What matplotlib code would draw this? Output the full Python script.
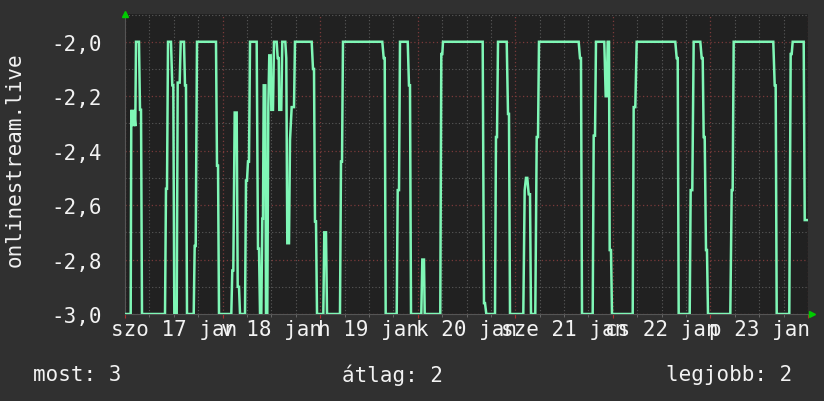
import matplotlib
matplotlib.use("Agg")
import matplotlib.pyplot as plt
import matplotlib.transforms as mtransforms
import numpy as np

# ---- data (hours since Sat 17 Jan 00:00, value) ----
hours = [
    0.17, 1.40, 1.55, 1.97, 2.21, 2.53, 2.71, 3.44, 3.69, 3.94, 4.18,
    9.84, 10.08, 10.33, 10.58, 11.31, 11.63, 11.88, 12.13, 12.72, 12.96,
    13.45, 13.70, 14.51, 14.76, 15.00, 15.25, 16.90, 17.14, 17.39, 17.71,
    22.38, 22.63, 22.88, 23.12, 26.15, 26.39, 26.64, 26.98, 27.47, 27.72,
    28.04, 28.29, 29.52, 29.76, 30.01, 30.25, 30.50, 30.75, 32.39, 32.71,
    32.96, 33.21, 33.53, 33.77, 33.94, 34.12, 34.51, 34.68, 35.00, 35.25,
    35.49, 35.84, 35.99, 36.40, 36.65, 37.31, 37.56, 37.81, 37.95, 38.44,
    38.69, 39.43, 39.67, 39.92, 40.34, 40.59, 41.00, 41.57, 41.81, 45.92,
    46.24, 46.49, 46.73, 46.98, 47.23, 48.78, 49.02, 49.44, 49.69, 52.88,
    53.13, 53.38, 53.62,
    63.29, 63.63, 63.88, 64.12, 66.83, 67.08, 67.40, 67.64, 69.54, 69.85,
    70.10, 70.35, 72.88, 73.13, 73.54, 73.72, 77.55, 77.80, 78.05, 78.22,
    87.98, 88.30, 88.55, 88.87, 91.01, 91.25, 91.50, 91.75, 93.89, 94.21,
    94.45, 94.70, 97.97, 98.31, 98.63, 98.95, 99.30, 99.62, 99.86, 100.92,
    101.27, 101.59, 101.83,
    111.59, 111.92, 112.16, 112.41, 115.04, 115.29, 115.61, 115.85, 117.89,
    118.24, 118.48, 118.73, 119.05, 119.22, 119.54, 119.79, 124.88, 125.12,
    125.52, 125.86, 135.36, 135.70, 135.95, 136.19, 138.90, 139.14, 139.54,
    139.88, 141.51, 141.85, 142.10, 142.34, 142.59, 142.91, 143.15, 143.40,
    148.89, 149.23, 149.47, 149.72, 159.46, 159.81, 160.05, 160.30, 163.40,
    163.74, 163.99, 164.23, 166.94, 167.19, 167.83,
]
values = [
    -3.0, -3.0, -2.25, -2.31, -2.25, -2.31, -2.0, -2.0, -2.25, -2.25, -3.0,
    -3.0, -2.54, -2.54, -2.0, -2.0, -2.16, -2.16, -3.0, -3.0, -2.15,
    -2.15, -2.0, -2.0, -2.16, -2.16, -3.0, -3.0, -2.75, -2.75, -2.0,
    -2.0, -2.455, -2.455, -3.0, -3.0, -2.84, -2.84, -2.26, -2.26, -2.9,
    -2.9, -3.0, -3.0, -2.51, -2.51, -2.44, -2.44, -2.0, -2.0, -2.76,
    -2.76, -3.0, -3.0, -2.65, -2.65, -2.16, -2.16, -3.0, -3.0, -2.24,
    -2.05, -2.05, -2.25, -2.25, -2.0, -2.0, -2.06, -2.06, -2.25, -2.25,
    -2.0, -2.0, -2.06, -2.74, -2.74, -2.36, -2.24, -2.24, -2.0, -2.0,
    -2.10, -2.10, -2.66, -2.66, -3.0, -3.0, -2.70, -2.70, -3.0, -3.0,
    -2.44, -2.44, -2.0,
    -2.0, -2.06, -2.06, -3.0, -3.0, -2.545, -2.545, -2.0, -2.0, -2.16,
    -2.16, -3.0, -3.0, -2.80, -2.80, -3.0, -3.0, -2.045, -2.045, -2.0,
    -2.0, -2.96, -2.96, -3.0, -3.0, -2.35, -2.35, -2.0, -2.0, -2.265,
    -2.265, -3.0, -3.0, -2.545, -2.50, -2.50, -2.56, -2.56, -3.0, -3.0,
    -2.35, -2.35, -2.0,
    -2.0, -2.06, -2.06, -3.0, -3.0, -2.345, -2.345, -2.0, -2.0,
    -2.20, -2.20, -2.0, -2.0, -2.765, -2.765, -3.0, -3.0, -2.24,
    -2.24, -2.0, -2.0, -2.06, -2.06, -3.0, -3.0, -2.545, -2.545,
    -2.0, -2.0, -2.06, -2.06, -2.35, -2.35, -2.765, -2.765, -3.0,
    -3.0, -2.545, -2.545, -2.0, -2.0, -2.16, -2.16, -3.0, -3.0,
    -2.045, -2.045, -2.0, -2.0, -2.655, -2.655,
]
day_labels = ["szo 17 jan", "v 18 jan", "h 19 jan", "k 20 jan",
              "sze 21 jan", "cs 22 jan", "p 23 jan"]
ytick_values = [-3.0, -2.8, -2.6, -2.4, -2.2, -2.0]
ylabel = "onlinestream.live"
legend_texts = ["most: 3", "átlag: 2", "legjobb: 2"]

# ---- style ----
BG = "#303030"
PLOT_BG = "#212121"
LINE = "#7ff7b6"
TXT = "#f2f2f2"
MONO = "DejaVu Sans Mono"
FS = 15

fig = plt.figure(figsize=(8.24, 4.02), dpi=100, facecolor=BG)
ax = fig.add_axes([125 / 824, 87 / 402, 683 / 824, 300 / 402], facecolor=PLOT_BG)

ax.plot(hours, values, color=LINE, lw=1.8, solid_joinstyle="miter", zorder=3)

ax.set_xlim(0, 168)
ax.set_ylim(-3.0, -1.898)

# grid
ax.set_xticks(np.arange(0, 169, 24))
ax.set_xticks(np.arange(0, 169, 6), minor=True)
ax.set_yticks(ytick_values)
ax.set_yticks(np.arange(-3.0, -1.89, 0.1), minor=True)
ax.grid(which="minor", color="#5a5a5a", linestyle=(0, (1, 2)), lw=0.8, zorder=1)
ax.grid(which="major", color="#7a3a3a", linestyle=(0, (1, 2)), lw=0.9, zorder=2)

ax.set_yticklabels([f"{v:.1f}".replace(".", ",") for v in ytick_values],
                   family=MONO, fontsize=FS, color=TXT)
ax.set_xticklabels([])
ax.tick_params(axis="y", which="both", length=0, pad=17)
ax.tick_params(axis="x", which="major", length=3, color="#b03030", direction="out")
ax.tick_params(axis="x", which="minor", length=2, color="#707070", direction="out")

for s in ["top", "right"]:
    ax.spines[s].set_visible(False)
ax.spines["left"].set_color("#555555")
ax.spines["bottom"].set_color("#555555")

# day labels centred at noon of each day
trans = mtransforms.blended_transform_factory(ax.transData, ax.transAxes)
for i, lab in enumerate(day_labels):
    ax.text(12 + 24 * i, -0.05, lab, transform=trans, ha="center", va="center",
            family=MONO, fontsize=FS, color=TXT)

# y label
fig.text(15 / 824, 1 - 160 / 402, ylabel, rotation=90, ha="center", va="center",
         family=MONO, fontsize=FS, color=TXT)

# arrows
ax.plot([0], [1.0], marker="^", color="#00cc00", ms=5, transform=ax.transAxes,
        clip_on=False, zorder=5)
ax.plot([1.006], [0.0], marker=">", color="#00cc00", ms=5, transform=ax.transAxes,
        clip_on=False, zorder=5)

# legend line
fig.text(33 / 824, 1 - 375 / 402, legend_texts[0], ha="left", va="center",
         family=MONO, fontsize=FS, color=TXT)
fig.text(342 / 824, 1 - 375 / 402, legend_texts[1], ha="left", va="center",
         family=MONO, fontsize=FS, color=TXT)
fig.text(792 / 824, 1 - 375 / 402, legend_texts[2], ha="right", va="center",
         family=MONO, fontsize=FS, color=TXT)

fig.savefig("out.png", dpi=100, facecolor=BG)
